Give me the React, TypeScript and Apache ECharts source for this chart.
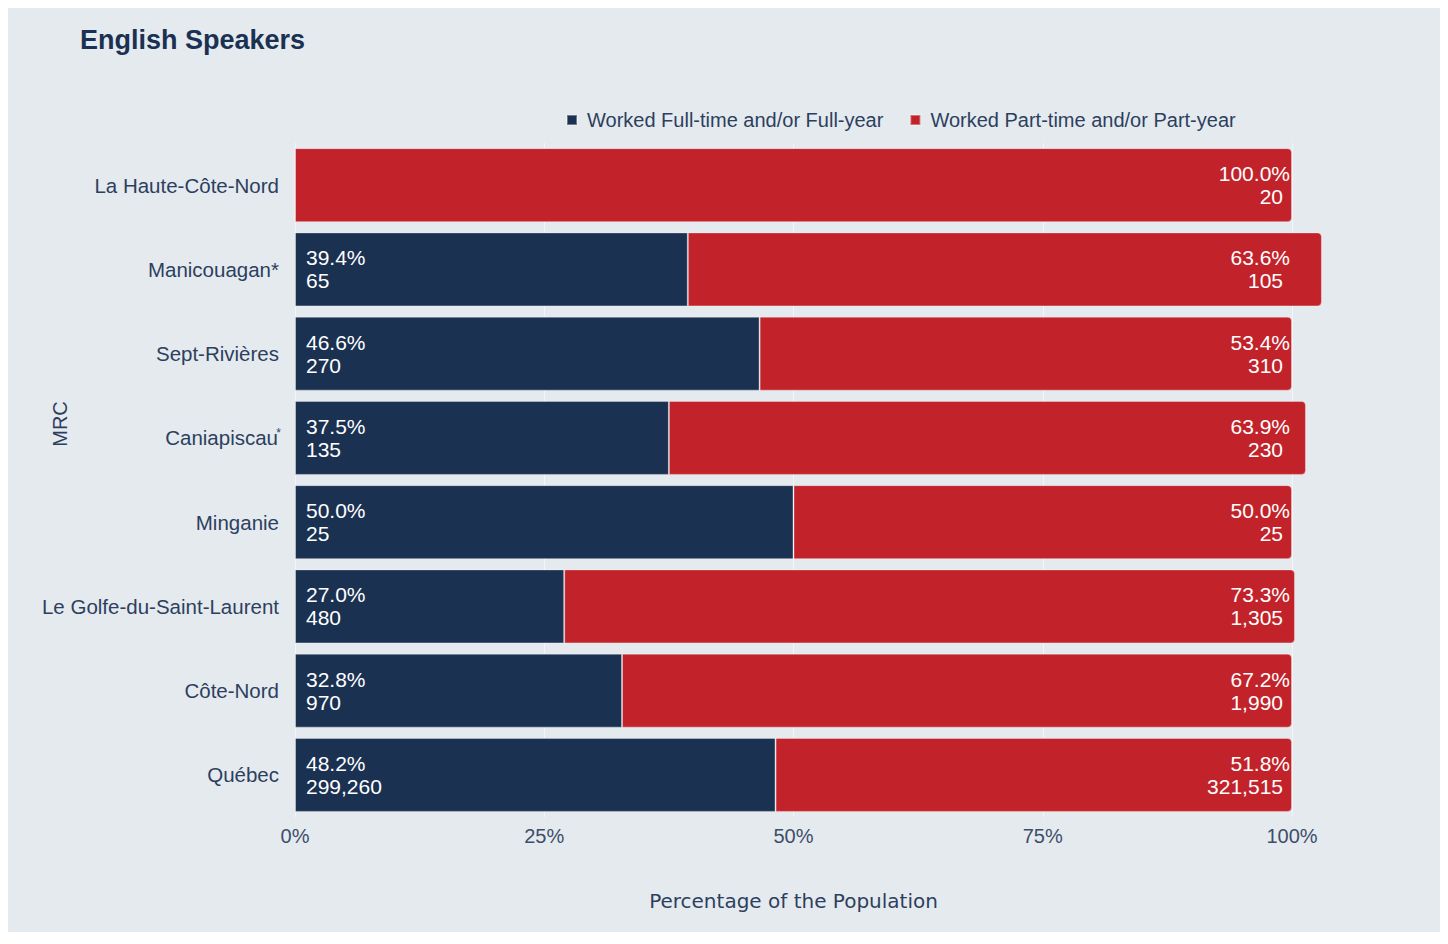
import React, { useEffect, useRef } from "react";
import * as echarts from "echarts";

const categories = [
  "La Haute-Côte-Nord",
  "Manicouagan*",
  "Sept-Rivières",
  "Caniapiscau*",
  "Minganie",
  "Le Golfe-du-Saint-Laurent",
  "Côte-Nord",
  "Québec",
];
const fullPct = [0, 39.4, 46.6, 37.5, 50.0, 27.0, 32.8, 48.2];
const fullCount = [0, 65, 270, 135, 25, 480, 970, 299260];
const partPct = [100, 63.6, 53.4, 63.9, 50.0, 73.3, 67.2, 51.8];
const partCount = [20, 105, 310, 230, 25, 1305, 1990, 321515];
const xTicks = [0, 25, 50, 75, 100];

const NAVY = "#1b3152";
const RED = "#c2232a";
const TEXT = "#2d3f5e";
const FONT = "'Liberation Sans', Arial, Helvetica, sans-serif";

const fmt = (n: number) => n.toLocaleString("en-US");

export default function App() {
  const ref = useRef<HTMLDivElement>(null);
  useEffect(() => {
    if (!ref.current) return;
    const chart = echarts.init(ref.current, null, { renderer: "svg" });
    chart.setOption({
      animation: false,
      backgroundColor: "#e5eaef",
      textStyle: { fontFamily: FONT },
      title: {
        text: "English Speakers",
        left: 67,
        top: 13,
        textStyle: { fontFamily: FONT, fontSize: 27, fontWeight: "bold", color: NAVY },
      },
      legend: {
        left: 553,
        top: 97,
        icon: "rect",
        itemWidth: 10,
        itemHeight: 10,
        itemGap: 26,
        textStyle: { fontFamily: FONT, fontSize: 20, color: TEXT, padding: [0, 0, 0, 5] },
        data: ["Worked Full-time and/or Full-year", "Worked Part-time and/or Part-year"],
      },
      grid: { left: 287, right: 153, top: 135, bottom: 123, containLabel: false },
      xAxis: {
        type: "value",
        min: 0,
        max: 100,
        interval: 25,
        name: "Percentage of the Population",
        nameLocation: "middle",
        nameGap: 74,
        nameTextStyle: { fontFamily: "'DejaVu Sans', sans-serif", fontSize: 20, color: TEXT },
        axisLabel: {
          fontFamily: FONT,
          fontSize: 20,
          color: "#3d4e6a",
          margin: 9,
          formatter: (v: number) => (xTicks.includes(v) ? v + "%" : ""),
        },
        axisLine: { show: false },
        axisTick: { show: false },
        splitLine: { show: true, lineStyle: { color: "#f3f5f8", width: 1 } },
      },
      yAxis: {
        type: "category",
        data: categories,
        inverse: true,
        axisLine: { show: false },
        axisTick: { show: false },
        axisLabel: {
          fontFamily: FONT,
          fontSize: 20.5,
          color: TEXT,
          margin: 16,
          formatter: (v: string) =>
            v === "Caniapiscau*" ? "{n|Caniapiscau}{s|*}" : "{n|" + v + "}",
          rich: {
            n: { fontFamily: FONT, fontSize: 20.5, color: TEXT },
            s: { fontFamily: FONT, fontSize: 12, color: TEXT, verticalAlign: "top", padding: [0, 0, 10, 0], width: 1, align: "left" },
          },
        },
      },
      graphic: [
        {
          type: "text",
          x: 52,
          y: 416,
          rotation: Math.PI / 2,
          style: {
            text: "MRC",
            fontFamily: FONT,
            fontSize: 20,
            fill: TEXT,
            align: "center",
            verticalAlign: "middle",
          },
        },
      ],
      series: [
        {
          name: "Worked Full-time and/or Full-year",
          type: "bar",
          stack: "total",
          barWidth: 74,
          clip: false,
          itemStyle: { color: NAVY, borderColor: "rgba(255,255,255,0.35)", borderWidth: 1 },
          label: {
            show: true,
            position: "insideLeft",
            distance: 11,
            color: "#fff",
            fontFamily: FONT,
            fontSize: 21,
            lineHeight: 23,
            formatter: (p: any) =>
              fullPct[p.dataIndex] > 0
                ? fullPct[p.dataIndex].toFixed(1) + "%\n" + fmt(fullCount[p.dataIndex])
                : "",
          },
          data: fullPct,
        },
        {
          name: "Worked Part-time and/or Part-year",
          type: "bar",
          stack: "total",
          barWidth: 74,
          clip: false,
          itemStyle: {
            color: RED,
            borderColor: "rgba(255,255,255,0.35)",
            borderWidth: 1,
            borderRadius: [0, 4, 4, 0],
          },
          label: { show: false },
          data: partPct,
        },
        {
          type: "custom",
          clip: false,
          silent: true,
          encode: { x: 1, y: 0 },
          data: categories.map((c, i) => [i, partPct[i], partCount[i]]),
          renderItem: (params: any, api: any) => {
            const idx = api.value(0);
            const pt = api.coord([100, idx]);
            const pct = api.value(1) as number;
            const cnt = api.value(2) as number;
            return {
              type: "text",
              x: pt[0] - 2,
              y: pt[1],
              z2: 100,
              style: {
                text: "{p|" + pct.toFixed(1) + "%}\n{c|" + fmt(cnt) + "}",
                align: "right",
                verticalAlign: "middle",
                fill: "#fff",
                fontFamily: FONT,
                fontSize: 21,
                rich: {
                  p: { align: "right", fontFamily: FONT, fontSize: 21, lineHeight: 23, color: "#fff" },
                  c: { align: "right", fontFamily: FONT, fontSize: 21, lineHeight: 23, color: "#fff", padding: [0, 7, 0, 0] },
                },
              },
            };
          },
          z: 10,
        },
      ],
    } as any);
    return () => chart.dispose();
  }, []);
  return <div ref={ref} style={{ width: 1437, height: 932, marginBottom: -8 }} />;
}
